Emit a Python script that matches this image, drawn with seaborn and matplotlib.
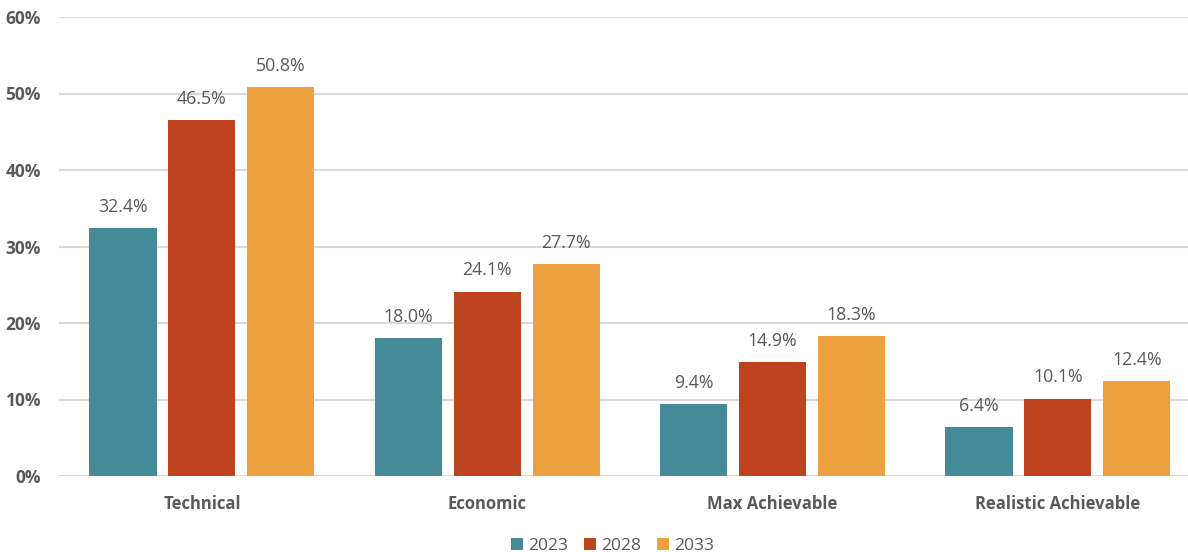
import matplotlib
matplotlib.use("Agg")
import matplotlib.pyplot as plt
import seaborn as sns
import pandas as pd

categories = ["Technical", "Economic", "Max Achievable", "Realistic Achievable"]
years = ["2023", "2028", "2033"]
values_2023 = [32.4, 18.0, 9.4, 6.4]
values_2028 = [46.5, 24.1, 14.9, 10.1]
values_2033 = [50.8, 27.7, 18.3, 12.4]
colors = ["#458A99", "#BD431E", "#EDA040"]

rows = []
for year, vals in zip(years, [values_2023, values_2028, values_2033]):
    for cat, v in zip(categories, vals):
        rows.append({"category": cat, "year": year, "value": v / 100})
df = pd.DataFrame(rows)

sns.set_style("white")
plt.rcParams["font.family"] = ["Open Sans", "DejaVu Sans"]
text_color = "#595959"

fig = plt.figure(figsize=(11.88, 5.52), dpi=100)
ax = fig.add_axes([59 / 1188, 76 / 552, 1 - 59 / 1188, 459 / 552])

sns.barplot(data=df, x="category", y="value", hue="year", order=categories,
            hue_order=years, palette=colors, width=0.83, gap=0.15,
            saturation=1, errorbar=None, linewidth=0, ax=ax, zorder=3)

# value labels above each bar
for container in ax.containers:
    labels = [f"{b.get_height() * 100:.1f}%" for b in container]
    ax.bar_label(container, labels=labels, padding=9, fontsize=12.8,
                 color=text_color)

ax.set_ylim(0, 0.6)
ax.set_xlim(-0.501, 3.456)
ax.set_yticks([i / 10 for i in range(7)])
ax.set_yticklabels([f"{i * 10}%" for i in range(7)])
ax.yaxis.grid(True, color="#D9D9D9", linewidth=1.5, zorder=0)
ax.xaxis.grid(False)
for s in ax.spines.values():
    s.set_visible(False)
ax.tick_params(axis="y", length=0, pad=13, labelsize=12.5, labelcolor=text_color)
ax.tick_params(axis="x", length=0, pad=14, labelsize=12, labelcolor=text_color)
for lab in ax.get_yticklabels() + ax.get_xticklabels():
    lab.set_fontweight("bold")
ax.set_xlabel("")
ax.set_ylabel("")

handles, lbls = ax.get_legend_handles_labels()
ax.legend(handles, lbls, loc="lower center", bbox_to_anchor=(0.49, -0.185),
          ncol=3, frameon=False, fontsize=12.5, labelcolor=text_color,
          handlelength=0.7, handleheight=0.7, handletextpad=0.3,
          columnspacing=0.9, borderaxespad=0)

fig.savefig("out.png", dpi=100)
